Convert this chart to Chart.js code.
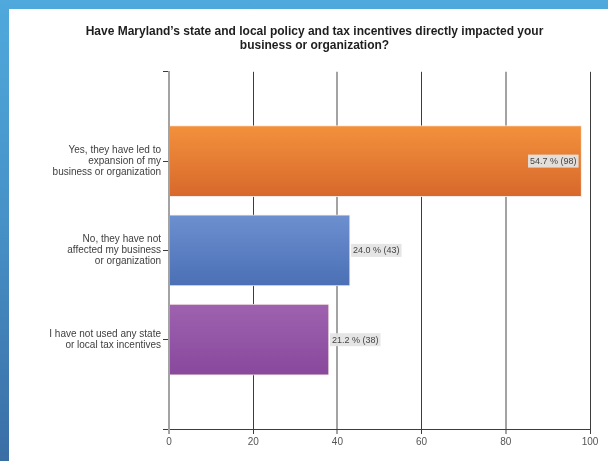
<!DOCTYPE html>
<html>
<head>
<meta charset="utf-8">
<script src="https://cdn.jsdelivr.net/npm/chart.js@4.4.1/dist/chart.umd.min.js"></script>
<style>
  html, body { margin: 0; padding: 0; }
  body {
    width: 608px; height: 461px; overflow: hidden;
    background: linear-gradient(to bottom, #4fa9dc 0%, #4690c6 50%, #3a6ea5 100%);
    position: relative;
  }
  #panel {
    position: absolute; left: 9px; top: 9px; width: 599px; height: 452px;
    background: #ffffff;
  }
  canvas { display: block; }
</style>
</head>
<body>
<div id="panel"><canvas id="chart" width="599" height="452"></canvas></div>
<script>
// Survey question and answer categories (blank slots pad the axis above and below)
const titleLines = [
  "Have Maryland\u2019s state and local policy and tax incentives directly impacted your",
  "business or organization?"
];
const categories = [
  "",
  ["Yes, they have led to", "expansion of my", "business or organization"],
  ["No, they have not", "affected my business", "or organization"],
  ["I have not used any state", "or local tax incentives"],
  ""
];
// Response counts and their share of all responses
const counts = [null, 98, 43, 38, null];
const percents = [null, 54.7, 24.0, 21.2, null];
const xTicks = [0, 20, 40, 60, 80, 100];

// Top and bottom shades for each bar's vertical gradient
const barTops = [null, "#f3913c", "#6d90d0", "#9e62b0"];
const barBottoms = [null, "#d7682b", "#4a6fb4", "#88489c"];

const FONT = "'Liberation Sans', Arial, sans-serif";

function barGradient(ctx) {
  const chart = ctx.chart;
  const i = ctx.dataIndex;
  const y = chart.scales && chart.scales.y;
  if (!y || !chart.chartArea || barTops[i] == null) return barTops[i] || "#999";
  const c = y.getPixelForValue(i);
  const g = chart.ctx.createLinearGradient(0, c - 36, 0, c + 36);
  g.addColorStop(0, barTops[i]);
  g.addColorStop(1, barBottoms[i]);
  return g;
}

// Value tags such as "54.7 % (98)" drawn at the end of each bar
const valueTags = {
  id: "valueTags",
  afterDatasetsDraw(chart) {
    const { ctx } = chart;
    const meta = chart.getDatasetMeta(0);
    ctx.save();
    ctx.font = "9px " + FONT;
    ctx.textBaseline = "middle";
    meta.data.forEach((bar, i) => {
      if (counts[i] == null) return;
      const text = percents[i].toFixed(1) + " % (" + counts[i] + ")";
      const w = ctx.measureText(text).width + 4;
      const h = 13;
      let x0;
      if (bar.x + w + 2 > chart.chartArea.right) {
        x0 = bar.x - w - 3;
      } else {
        x0 = bar.x + 1;
      }
      const yc = bar.y;
      ctx.fillStyle = "rgba(228,228,228,0.95)";
      ctx.fillRect(x0, yc - h / 2, w, h);
      ctx.fillStyle = "#444444";
      ctx.textAlign = "left";
      ctx.fillText(text, x0 + 2, yc + 0.5);
    });
    ctx.restore();
  }
};

new Chart(document.getElementById("chart"), {
  type: "bar",
  data: {
    labels: categories,
    datasets: [{
      data: counts,
      backgroundColor: barGradient,
      borderColor: "rgba(245,232,225,0.9)",
      borderWidth: 1,
      borderSkipped: "start",
      barThickness: 71
    }]
  },
  options: {
    indexAxis: "y",
    responsive: false,
    animation: false,
    layout: { padding: { left: 30, right: 18, top: 0, bottom: 0 } },
    plugins: {
      legend: { display: false },
      tooltip: { enabled: false },
      title: {
        display: true,
        text: titleLines,
        color: "#1e1e1e",
        font: { family: FONT, size: 12, weight: "bold", lineHeight: 1.2 },
        padding: { top: 15, bottom: 19 }
      }
    },
    scales: {
      x: {
        type: "linear",
        position: "bottom",
        min: 0,
        max: 100,
        afterBuildTicks(scale) {
          scale.ticks = xTicks.map(v => ({ value: v }));
        },
        afterFit(scale) { scale.height = 32; },
        grid: {
          drawOnChartArea: true,
          drawTicks: true,
          tickLength: 5,
          color: c => (c.tick && c.tick.value % 40 === 0) ? "#a3a3a3" : "#3c3c3c",
          lineWidth: c => (c.tick && c.tick.value % 40 === 0) ? 2 : 1
        },
        border: { display: true, color: "#3c3c3c", width: 1 },
        ticks: {
          color: "#555555",
          padding: 2,
          maxRotation: 0,
          font: { family: FONT, size: 10 }
        }
      },
      y: {
        type: "category",
        offset: false,
        afterFit(scale) { scale.width = 130; },
        grid: {
          offset: false,
          drawOnChartArea: false,
          drawTicks: true,
          tickLength: 6,
          color: "#3c3c3c",
          lineWidth: 1
        },
        border: { display: true, color: "#a3a3a3", width: 2 },
        ticks: {
          color: "#404040",
          padding: 2,
          autoSkip: false,
          font: { family: FONT, size: 10, lineHeight: 1.1 }
        }
      }
    }
  },
  plugins: [valueTags]
});
</script>
</body>
</html>
